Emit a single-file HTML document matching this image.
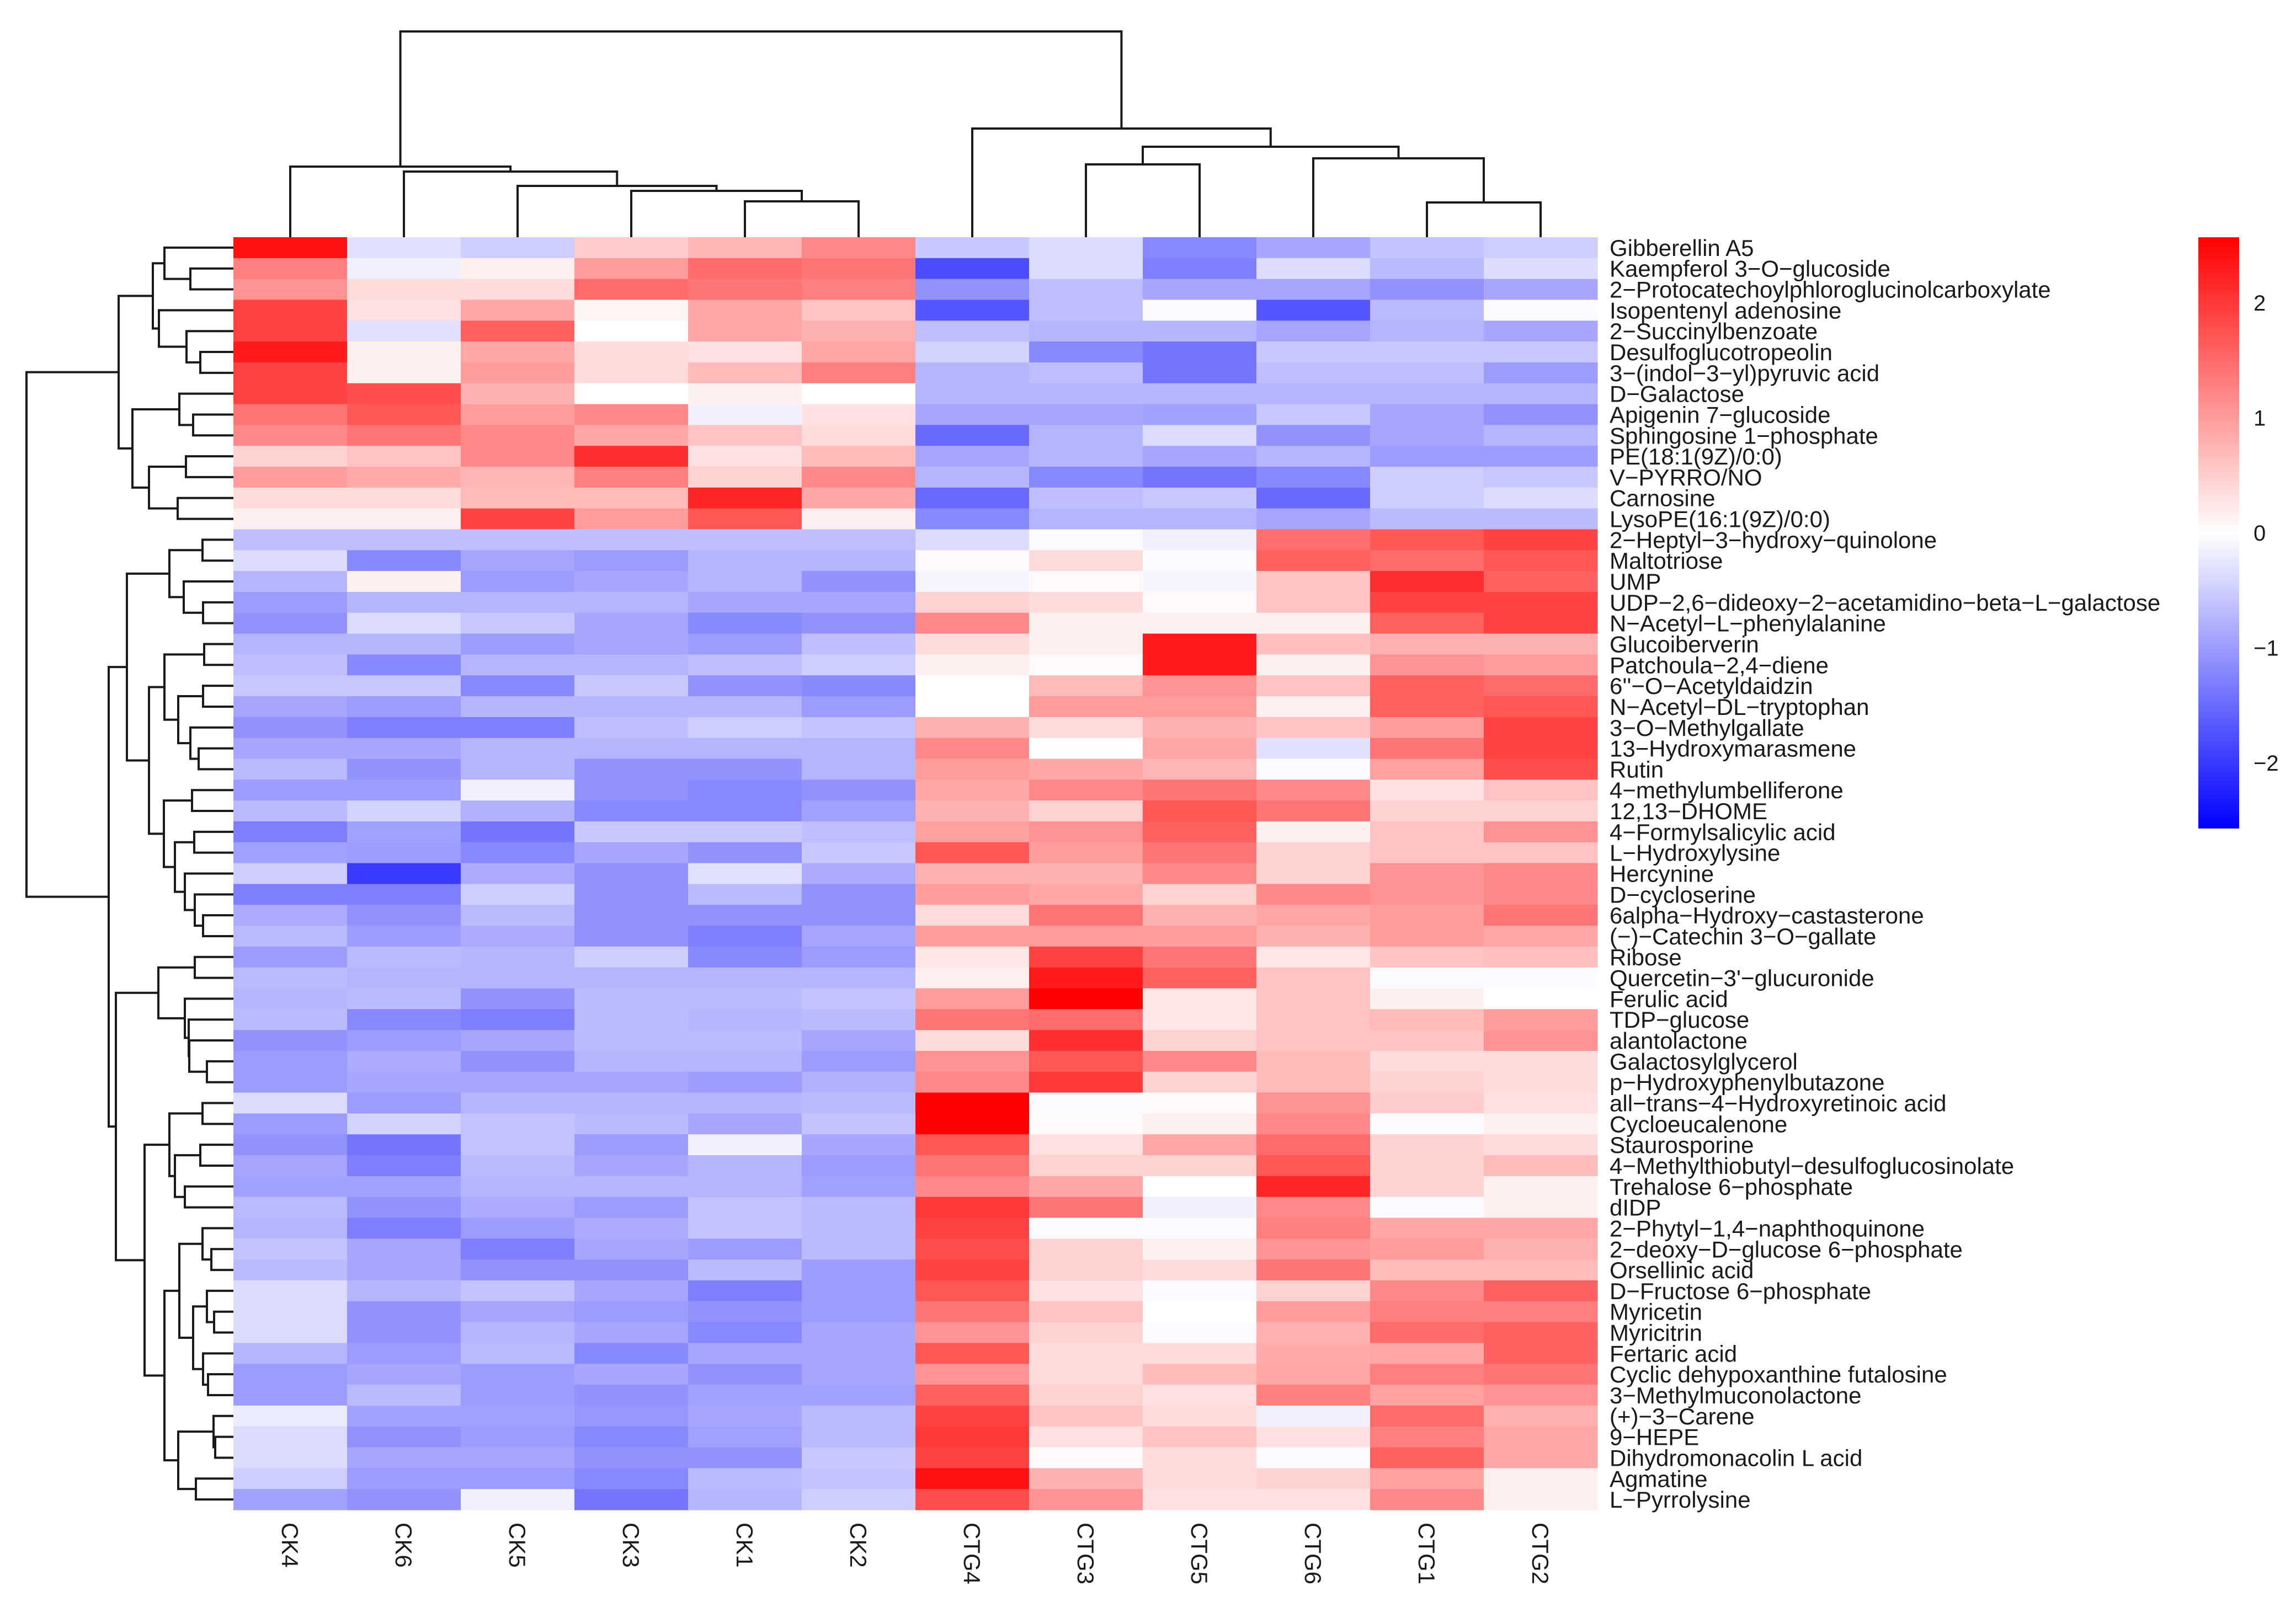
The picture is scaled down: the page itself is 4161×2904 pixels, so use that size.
<!DOCTYPE html>
<html><head><meta charset="utf-8"><title>Heatmap</title>
<style>html,body{margin:0;padding:0;background:#fff;}svg{display:block;}</style>
</head><body>
<svg id="chart" xmlns="http://www.w3.org/2000/svg" width="4161" height="2904" viewBox="0 0 4161 2904" font-family="'Liberation Sans', Arial, sans-serif">
<rect width="4161" height="2904" fill="#fff"/>
<g id="cells"></g>
<g id="rowtree" stroke="#1a1a1a" stroke-width="4" fill="none"></g>
<g id="coltree" stroke="#1a1a1a" stroke-width="4" fill="none"></g>
<g id="rowlabels" font-size="42" fill="#1a1a1a"></g>
<g id="collabels" font-size="42" fill="#1a1a1a"></g>
<g id="legend"></g>
</svg>
<script>
const columns = ["CK4","CK6","CK5","CK3","CK1","CK2","CTG4","CTG3","CTG5","CTG6","CTG1","CTG2"];
const rowNames = ["Gibberellin A5","Kaempferol 3−O−glucoside","2−Protocatechoylphloroglucinolcarboxylate","Isopentenyl adenosine","2−Succinylbenzoate","Desulfoglucotropeolin","3−(indol−3−yl)pyruvic acid","D−Galactose","Apigenin 7−glucoside","Sphingosine 1−phosphate","PE(18:1(9Z)/0:0)","V−PYRRO/NO","Carnosine","LysoPE(16:1(9Z)/0:0)","2−Heptyl−3−hydroxy−quinolone","Maltotriose","UMP","UDP−2,6−dideoxy−2−acetamidino−beta−L−galactose","N−Acetyl−L−phenylalanine","Glucoiberverin","Patchoula−2,4−diene","6''−O−Acetyldaidzin","N−Acetyl−DL−tryptophan","3−O−Methylgallate","13−Hydroxymarasmene","Rutin","4−methylumbelliferone","12,13−DHOME","4−Formylsalicylic acid","L−Hydroxylysine","Hercynine","D−cycloserine","6alpha−Hydroxy−castasterone","(−)−Catechin 3−O−gallate","Ribose","Quercetin−3'−glucuronide","Ferulic acid","TDP−glucose","alantolactone","Galactosylglycerol","p−Hydroxyphenylbutazone","all−trans−4−Hydroxyretinoic acid","Cycloeucalenone","Staurosporine","4−Methylthiobutyl−desulfoglucosinolate","Trehalose 6−phosphate","dIDP","2−Phytyl−1,4−naphthoquinone","2−deoxy−D−glucose 6−phosphate","Orsellinic acid","D−Fructose 6−phosphate","Myricetin","Myricitrin","Fertaric acid","Cyclic dehypoxanthine futalosine","3−Methylmuconolactone","(+)−3−Carene","9−HEPE","Dihydromonacolin L acid","Agmatine","L−Pyrrolysine"];
const values = [
[2.4,-0.3,-0.5,0.5,0.75,1.2,-0.55,-0.35,-1.2,-0.9,-0.6,-0.5],
[1.3,-0.15,0.15,1.0,1.5,1.4,-1.8,-0.35,-1.3,-0.35,-0.7,-0.35],
[1.1,0.35,0.35,1.5,1.4,1.3,-1.1,-0.65,-0.9,-0.9,-1.1,-0.9],
[1.9,0.3,0.9,0.1,0.9,0.6,-1.7,-0.65,-0.05,-1.7,-0.7,-0.05],
[1.9,-0.3,1.6,0.0,0.9,0.8,-0.65,-0.75,-0.75,-0.9,-0.75,-0.9],
[2.3,0.15,0.9,0.35,0.3,0.9,-0.45,-1.2,-1.4,-0.55,-0.55,-0.55],
[1.9,0.15,1.0,0.35,0.7,1.3,-0.75,-0.65,-1.4,-0.65,-0.65,-1.0],
[1.9,1.8,0.8,0.0,0.15,0.0,-0.75,-0.75,-0.75,-0.75,-0.75,-0.75],
[1.4,1.7,1.0,1.2,-0.15,0.3,-0.9,-0.9,-0.95,-0.55,-0.9,-1.1],
[1.2,1.4,1.2,0.9,0.6,0.35,-1.5,-0.75,-0.35,-1.1,-0.9,-0.75],
[0.45,0.6,1.2,2.1,0.3,0.7,-0.9,-0.75,-0.9,-0.75,-1.0,-1.0],
[1.0,0.85,0.75,1.3,0.45,1.2,-0.75,-1.2,-1.4,-1.2,-0.5,-0.55],
[0.35,0.35,0.7,0.7,2.2,0.9,-1.5,-0.65,-0.55,-1.5,-0.5,-0.35],
[0.15,0.15,1.9,1.0,1.7,0.15,-1.2,-0.75,-0.75,-0.9,-0.7,-0.7],
[-0.65,-0.65,-0.65,-0.65,-0.65,-0.65,-0.35,-0.05,-0.15,1.45,1.7,1.9],
[-0.35,-1.2,-0.9,-1.0,-0.75,-0.75,0.05,0.35,-0.05,1.6,1.5,1.7],
[-0.75,0.15,-1.0,-0.9,-0.75,-1.1,-0.1,0.05,-0.1,0.6,2.1,1.6],
[-1.0,-0.75,-0.75,-0.75,-0.9,-0.9,0.45,0.35,0.05,0.6,1.9,1.9],
[-1.1,-0.35,-0.55,-0.9,-1.2,-1.1,1.2,0.15,0.15,0.15,1.6,1.9],
[-0.75,-0.75,-1.0,-0.9,-1.0,-0.65,0.35,0.15,2.3,0.65,0.8,0.8],
[-0.65,-1.2,-0.75,-0.75,-0.65,-0.5,0.15,0.05,2.3,0.15,1.1,1.0],
[-0.55,-0.55,-1.2,-0.55,-1.1,-1.2,0.0,0.7,1.1,0.6,1.6,1.5],
[-0.9,-1.0,-0.75,-0.75,-0.75,-1.0,0.0,1.0,1.0,0.15,1.6,1.7],
[-1.1,-1.3,-1.3,-0.65,-0.5,-0.6,0.8,0.35,0.8,0.6,1.0,1.9],
[-0.9,-0.9,-0.75,-0.75,-0.75,-0.75,1.2,0.0,0.9,-0.3,1.4,1.9],
[-0.7,-1.1,-0.75,-1.1,-1.1,-0.75,1.0,0.9,0.75,-0.05,0.95,1.8],
[-1.0,-1.0,-0.15,-1.1,-1.2,-1.1,0.9,1.2,1.4,1.2,0.3,0.6],
[-0.7,-0.45,-0.8,-1.2,-1.2,-0.95,0.8,0.45,1.7,1.4,0.45,0.45],
[-1.3,-0.95,-1.4,-0.55,-0.55,-0.65,0.95,1.1,1.6,0.15,0.6,1.1],
[-0.95,-1.0,-1.2,-0.9,-1.1,-0.55,1.7,1.0,1.4,0.45,0.6,0.6],
[-0.5,-2.0,-0.85,-1.1,-0.3,-0.85,0.8,0.8,1.2,0.45,1.1,1.2],
[-1.3,-1.3,-0.5,-1.1,-0.7,-1.1,1.0,0.9,0.45,1.2,1.1,1.2],
[-0.85,-1.1,-0.7,-1.1,-1.1,-1.1,0.35,1.4,0.8,0.9,1.0,1.4],
[-0.7,-1.0,-0.85,-1.1,-1.3,-0.9,1.0,1.0,1.0,0.8,1.0,0.9],
[-1.0,-0.7,-0.75,-0.5,-1.2,-1.0,0.25,1.9,1.4,0.25,0.6,0.65],
[-0.7,-0.75,-0.75,-0.75,-0.75,-0.75,0.15,2.3,1.6,0.6,-0.05,-0.05],
[-0.75,-0.7,-1.1,-0.7,-0.7,-0.6,1.0,2.6,0.25,0.6,0.15,0.0],
[-0.7,-1.2,-1.3,-0.7,-0.75,-0.7,1.4,1.5,0.25,0.6,0.7,1.0],
[-1.1,-1.0,-0.9,-0.7,-0.7,-0.9,0.35,2.1,0.45,0.6,0.6,1.1],
[-1.0,-0.85,-1.1,-0.75,-0.75,-1.0,1.1,1.7,1.2,0.7,0.35,0.35],
[-1.0,-0.9,-0.9,-0.9,-1.0,-0.8,1.2,2.0,0.45,0.7,0.45,0.35],
[-0.35,-1.0,-0.75,-0.75,-0.75,-0.7,2.6,-0.05,0.05,1.1,0.5,0.3],
[-1.0,-0.45,-0.6,-0.7,-0.9,-0.6,2.6,0.05,0.15,1.2,-0.05,0.15],
[-1.1,-1.4,-0.6,-1.0,-0.15,-0.9,1.7,0.3,0.9,1.5,0.45,0.35],
[-0.9,-1.3,-0.7,-0.9,-0.75,-1.0,1.4,0.45,0.45,1.7,0.45,0.7],
[-0.95,-0.95,-0.75,-0.75,-0.75,-0.95,1.2,0.9,0.0,2.2,0.45,0.15],
[-0.7,-1.1,-0.85,-1.0,-0.6,-0.7,2.0,1.4,-0.15,1.2,-0.05,0.15],
[-0.75,-1.3,-1.0,-0.85,-0.6,-0.7,1.9,-0.05,-0.05,1.3,0.9,0.9],
[-0.6,-0.9,-1.3,-0.9,-1.0,-0.7,1.8,0.45,0.15,1.1,1.0,0.8],
[-0.7,-0.9,-1.1,-1.1,-0.7,-1.0,1.9,0.45,0.35,1.4,0.7,0.7],
[-0.35,-0.75,-0.6,-0.9,-1.3,-1.0,1.7,0.3,-0.05,0.45,1.2,1.6],
[-0.35,-1.1,-0.9,-1.0,-1.1,-1.0,1.4,0.6,0.0,1.0,1.3,1.3],
[-0.35,-1.1,-0.75,-0.9,-1.2,-0.9,1.1,0.45,-0.05,0.8,1.5,1.6],
[-0.75,-1.0,-0.7,-1.2,-0.9,-0.9,1.7,0.35,0.35,0.85,0.9,1.6],
[-1.0,-0.9,-1.0,-0.9,-1.1,-0.9,1.1,0.35,0.7,0.9,1.3,1.4],
[-1.0,-0.7,-1.0,-1.1,-0.95,-0.95,1.6,0.45,0.3,1.3,0.95,1.1],
[-0.2,-0.95,-0.95,-1.05,-0.9,-0.7,1.9,0.6,0.35,-0.15,1.5,0.8],
[-0.35,-1.1,-1.0,-1.2,-0.95,-0.7,2.0,0.3,0.6,0.3,1.3,0.9],
[-0.35,-0.9,-0.9,-1.1,-1.1,-0.55,1.9,0.05,0.35,-0.05,1.6,0.9],
[-0.5,-1.0,-1.0,-1.2,-0.7,-0.6,2.4,0.8,0.35,0.45,0.95,0.15],
[-0.95,-1.1,-0.15,-1.4,-0.75,-0.5,1.8,1.1,0.3,0.3,1.2,0.15]
];
const legendTicks = [2,1,0,-1,-2];
const colorMax = 2.57, colorMin = -2.57;
// dendrograms: [left, right, mergeHeight]; leaves are 1-based row / column indices
const colTree = [[1,[2,[3,[4,[5,6,6.5],8.4],9.3],11.9],12.8],[7,[[8,9,13.2],[10,[11,12,6.3],14.3],16.4],19.7],37.3];
const rowTree = [
  [[[1,[2,3,7.8],12.5],[4,[5,[6,7,6.0],8.5],13.5],14.6],
   [[8,[9,10,7.3],9.8],[[11,12,8.6],[13,14,10.1],15.3],18.3],20.8],
  [[[[15,16,5.6],[17,[18,19,5.5],9.0],11.6],
    [[[20,21,5.3],[[22,23,5.5],[24,[25,26,6.3],7.8],10.0],12.5],
     [[27,28,7.5],[[29,30,7.1],[31,[32,[33,34,5.5],7.0],8.8],10.6],12.6],15.3],19.3],
   [[[35,36,7.0],[37,[38,[39,[40,41,4.8],8.0],8.1],8.8],13.6],
    [[[42,43,5.6],[[44,45,6.0],[46,47,8.8],10.6],11.6],
     [[[48,[49,50,4.0],5.6],[[51,[52,53,3.5],4.8],[54,[55,56,4.6],5.5],7.3],9.8],
      [[57,[58,59,3.3],3.6],[60,61,6.8],10.0],12.5],16.1],21.3],22.6],37.5];

const NS = "http://www.w3.org/2000/svg";
const X0 = 423, X1 = 2895, Y0 = 430, Y1 = 2737;
const cw = (X1 - X0) / columns.length, rh = (Y1 - Y0) / rowNames.length;
const xCol = i => X0 + i * cw;
const yRow = j => Y0 + j * rh;
const rowTreeX = h => X0 - h * 10;
const colTreeY = h => Y0 - h * 10;
const legY = v => 966 - v * 208.5;
function color(v) {
  if (v >= 0) { const t = Math.min(v / colorMax, 1); const g = Math.round(255 * (1 - t)); return `rgb(255,${g},${g})`; }
  const t = Math.min(-v / -colorMin, 1); const g = Math.round(255 * (1 - t)); return `rgb(${g},${g},255)`;
}
function mk(tag, attrs, parent) { const e = document.createElementNS(NS, tag); for (const k in attrs) e.setAttribute(k, attrs[k]); parent.appendChild(e); return e; }

const cells = document.getElementById('cells');
values.forEach((row, j) => row.forEach((v, i) => {
  const r = mk('rect', {x: xCol(i), y: yRow(j), width: cw + 0.6, height: rh + 0.6, fill: color(v)}, cells);
  
  
}));

const rl = document.getElementById('rowlabels');
rowNames.forEach((n, j) => {
  const t = mk('text', {x: 2917, y: yRow(j) + rh / 2 + 15}, rl);
  t.textContent = n;
  
  
});
const cl = document.getElementById('collabels');
columns.forEach((n, i) => {
  const cx = xCol(i) + cw / 2 - 15, cy = 2760;
  const t = mk('text', {x: cx, y: cy, transform: `rotate(90 ${cx} ${cy})`}, cl);
  t.textContent = n;
  
  
});

// row dendrogram
const rt = document.getElementById('rowtree');
function drawRow(node) {
  if (typeof node === 'number') return {p: yRow(node - 1) + rh / 2, h: 0};
  const a = drawRow(node[0]), b = drawRow(node[1]), x = rowTreeX(node[2]);
  const p = mk('path', {d: `M${rowTreeX(a.h)},${a.p}H${x}V${b.p}H${rowTreeX(b.h)}`}, rt);
  
  
  return {p: (a.p + b.p) / 2, h: node[2]};
}
drawRow(rowTree);
const ct = document.getElementById('coltree');
function drawCol(node) {
  if (typeof node === 'number') return {p: xCol(node - 1) + cw / 2, h: 0};
  const a = drawCol(node[0]), b = drawCol(node[1]), y = colTreeY(node[2]);
  const p = mk('path', {d: `M${a.p},${colTreeY(a.h)}V${y}H${b.p}V${colTreeY(b.h)}`}, ct);
  
  
  return {p: (a.p + b.p) / 2, h: node[2]};
}
drawCol(colTree);

// legend
const lg = document.getElementById('legend');
const defs = mk('defs', {}, lg);
const grad = mk('linearGradient', {id: 'lgGrad', x1: 0, y1: 0, x2: 0, y2: 1}, defs);
const yTop = legY(colorMax), yBot = legY(colorMin);
[[colorMax, 'rgb(255,0,0)'], [0, 'rgb(255,255,255)'], [colorMin, 'rgb(0,0,255)']].forEach(([v, c]) => {
  mk('stop', {offset: (legY(v) - yTop) / (yBot - yTop), 'stop-color': c}, grad);
});
const bar = mk('rect', {x: 3984, y: yTop, width: 74, height: yBot - yTop, fill: 'url(#lgGrad)'}, lg);


legendTicks.forEach(v => {
  const t = mk('text', {x: 4084, y: legY(v) + 14, 'font-size': 40, fill: '#1a1a1a'}, lg);
  t.textContent = v < 0 ? '−' + Math.abs(v) : String(v);
  
  
});
</script>
</body></html>
